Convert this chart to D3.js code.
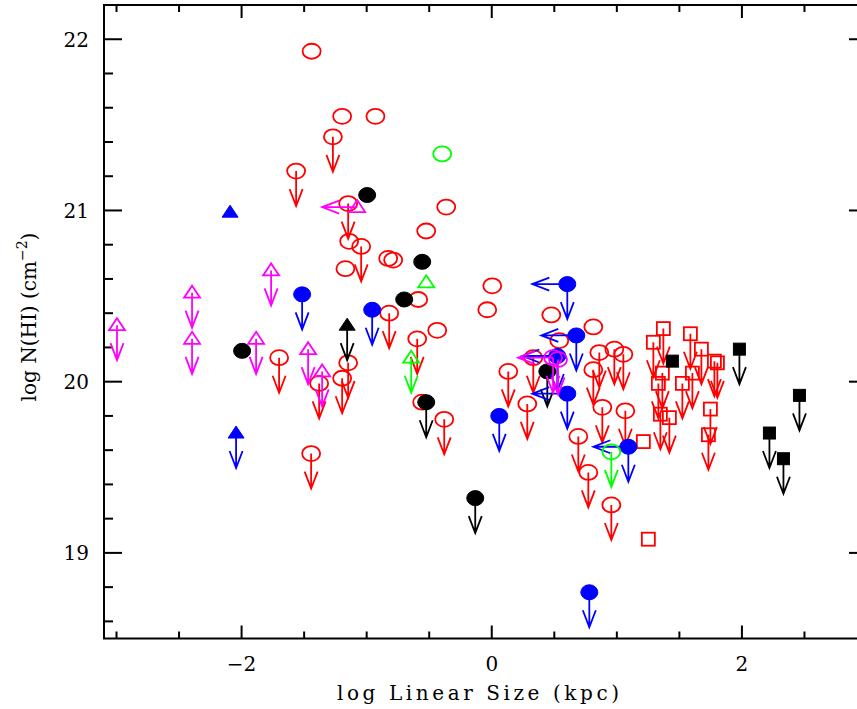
<!DOCTYPE html>
<html>
<head>
<meta charset="utf-8">
<script src="https://cdn.jsdelivr.net/npm/d3@7"></script>
<style>
body{margin:0;background:#fff;}
text{font-family:"DejaVu Serif",serif;fill:#000;}
</style>
</head>
<body>
<svg id="chart" width="857" height="709"></svg>
<script>
// ---------------- data : [log size, log N(HI), down limit, left limit]
const redCircles = [
  [-1.44,21.93,0],[-1.196,21.55,0],[-0.93,21.55,0],[-1.27,21.43,1],[-1.564,21.23,1],
  [-1.148,21.04,1],[-0.364,21.02,0],[-0.524,20.88,0],[-1.14,20.82,0],[-1.044,20.79,1],
  [-0.828,20.72,0],[-0.788,20.71,0],[-1.17,20.66,0],[0.004,20.56,0],[-0.588,20.48,0],
  [-0.036,20.42,0],[-0.82,20.40,1],[0.476,20.39,0],[0.812,20.32,0],[-0.436,20.30,0],
  [-0.596,20.25,1],[0.54,20.24,0],[-1.70,20.14,1],[0.332,20.14,1],[-1.148,20.11,1],
  [0.86,20.17,1],[0.98,20.19,1],[1.052,20.16,1],[0.812,20.07,1],[0.132,20.06,1],
  [-1.196,20.02,1],[-1.38,19.99,1],[-0.556,19.88,0],[0.284,19.87,1],[0.884,19.85,1],
  [1.068,19.83,1],[-0.38,19.78,1],[0.692,19.68,1],[-1.444,19.58,1],[0.772,19.47,1],
  [0.956,19.28,1]
];
const redSquares = [
  [1.372,20.31,1],[1.292,20.23,1],[1.588,20.28,1],[1.676,20.19,1],[1.78,20.12,1],
  [1.804,20.11,1],[1.364,20.05,1],[1.332,19.99,1],[1.524,19.99,1],[1.604,20.05,1],
  [1.348,19.81,1],[1.42,19.79,1],[1.748,19.84,1],[1.732,19.69,1],[1.212,19.65,0],
  [1.252,19.08,0]
];
const blackCircles = [
  [-0.996,21.09,0],[-0.556,20.70,0],[-0.70,20.48,0],[-1.996,20.18,0],
  [0.444,20.06,1],[-0.524,19.88,1],[-0.132,19.32,1]
];
const blackSquares = [
  [1.444,20.12,0],[1.98,20.19,1],[2.46,19.92,1],[2.22,19.70,1],[2.332,19.55,1]
];
const blackTriangles = [[-1.156,20.33,1]];
const blueCircles = [
  [-1.516,20.51,1,0],[-0.956,20.42,1,0],[0.604,20.57,1,1],[0.676,20.27,1,1],
  [0.524,20.15,1,1],[0.604,19.93,1,1],[0.06,19.80,1,0],[1.092,19.62,1,1],[0.78,18.77,1,0]
];
const blueTriangles = [[-2.092,20.99,0],[-2.044,19.70,1]];
const magentaTriangles = [
  [-2.996,20.33,1],[-2.396,20.52,1],[-2.396,20.25,1],[-1.764,20.65,1],[-1.884,20.25,1],
  [-1.468,20.19,1],[-1.356,20.06,1],[-1.076,21.02,0,1]
];
const magentaCircles = [[0.49,20.14,1,1],[0.53,20.13,1,0]];
const greenCircles = [[-0.396,21.33,0],[0.956,19.59,1]];
const greenTriangles = [[-0.524,20.58,0],[-0.644,20.14,1]];

const xMajor = [-2, 0, 2];
const yMajor = [19, 20, 21, 22];

// ---------------- layout
const svg = d3.select("#chart");
const x = d3.scaleLinear().domain([-3.1, 3.0]).range([104, 867]);
const y = d3.scaleLinear().domain([18.5, 22.2]).range([638.5, 5]);

const x0 = 104, x1 = 867, y0 = 5, y1 = 638.5;
const xMinor = d3.range(-3, 3.01, 0.5);
const yMinor = d3.range(18.6, 22.21, 0.2);

const axes = svg.append("g").attr("stroke", "#000").attr("stroke-width", 2);
axes.append("rect").attr("x", x0).attr("y", y0).attr("width", x1 - x0).attr("height", y1 - y0).attr("fill", "none");

// x ticks (bottom + top)
xMinor.forEach(v => {
  const len = xMajor.some(m => Math.abs(m - v) < 1e-6) ? 13 : 7;
  axes.append("line").attr("x1", x(v)).attr("x2", x(v)).attr("y1", y1).attr("y2", y1 - len);
  axes.append("line").attr("x1", x(v)).attr("x2", x(v)).attr("y1", y0).attr("y2", y0 + len);
});
// y ticks (left + right)
yMinor.forEach(v => {
  const len = yMajor.some(m => Math.abs(m - v) < 1e-6) ? 18 : 9;
  axes.append("line").attr("x1", x0).attr("x2", x0 + len).attr("y1", y(v)).attr("y2", y(v));
  axes.append("line").attr("x1", x1).attr("x2", x1 - len).attr("y1", y(v)).attr("y2", y(v));
});

svg.selectAll("text.xt").data(xMajor).enter().append("text")
  .attr("x", d => x(d)).attr("y", 671).attr("text-anchor", "middle")
  .attr("font-size", 20).text(d => d < 0 ? "\u2212" + Math.abs(d) : d);
svg.selectAll("text.yt").data(yMajor).enter().append("text")
  .attr("x", 89).attr("y", d => y(d) + 7.5).attr("text-anchor", "end")
  .attr("font-size", 20).text(d => d);

svg.append("text").attr("x", 478).attr("y", 700).attr("text-anchor", "middle")
  .attr("font-size", 20).attr("textLength", 282).attr("lengthAdjust", "spacing")
  .text("log Linear Size (kpc)");

const ylab = svg.append("text").attr("transform", "translate(36,317) rotate(-90)")
  .attr("text-anchor", "middle").attr("font-size", 20);
ylab.append("tspan").text("log N(HI) (cm");
ylab.append("tspan").attr("font-size", 14).attr("dy", -9).text("\u22122");
ylab.append("tspan").attr("dy", 9).text(")");

// ---------------- markers
const ALEN = 35, AH = 17, AW = 6.5;
function downArrow(cx, cy) {
  const ty = cy + ALEN;
  return `M${cx},${cy}V${ty}M${cx - AW},${ty - AH}L${cx},${ty}L${cx + AW},${ty - AH}`;
}
function leftArrow(cx, cy) {
  const tx = cx - ALEN;
  return `M${cx},${cy}H${tx}M${tx + AH},${cy - AW}L${tx},${cy}L${tx + AH},${cy + AW}`;
}

function drawSeries(data, shape, color, filled) {
  const g = svg.append("g").attr("stroke", color).attr("stroke-width", 1.8).attr("fill", "none");
  g.selectAll("path.down").data(data.filter(d => d[2])).enter().append("path")
    .attr("d", d => downArrow(x(d[0]), y(d[1])));
  g.selectAll("path.left").data(data.filter(d => d[3])).enter().append("path")
    .attr("d", d => leftArrow(x(d[0]), y(d[1])));
  const m = g.selectAll(".mk").data(data).enter();
  let s;
  if (shape === "circle") {
    s = m.append("ellipse").attr("cx", d => x(d[0])).attr("cy", d => y(d[1]))
      .attr("rx", filled ? 8.5 : 9).attr("ry", 7.5);
  } else if (shape === "square") {
    const h = filled ? 6 : 6.5;
    s = m.append("rect").attr("x", d => x(d[0]) - h).attr("y", d => y(d[1]) - h)
      .attr("width", 2 * h).attr("height", 2 * h);
  } else {
    s = m.append("path").attr("d", d => {
      const cx = x(d[0]), cy = y(d[1]);
      return `M${cx},${cy - 7}L${cx + 8},${cy + 5}L${cx - 8},${cy + 5}Z`;
    });
  }
  if (filled) s.attr("fill", color).attr("stroke-width", 1);
}

drawSeries(redCircles, "circle", "#ff0000", false);
drawSeries(redSquares, "square", "#ff0000", false);
drawSeries(blackCircles, "circle", "#000000", true);
drawSeries(blackSquares, "square", "#000000", true);
drawSeries(blackTriangles, "triangle", "#000000", true);
drawSeries(blueCircles, "circle", "#0000ff", true);
drawSeries(blueTriangles, "triangle", "#0000ff", true);
drawSeries(magentaTriangles, "triangle", "#ff00ff", false);
drawSeries(magentaCircles, "circle", "#ff00ff", false);
drawSeries(greenCircles, "circle", "#00ff00", false);
drawSeries(greenTriangles, "triangle", "#00ff00", false);
</script>
</body>
</html>
